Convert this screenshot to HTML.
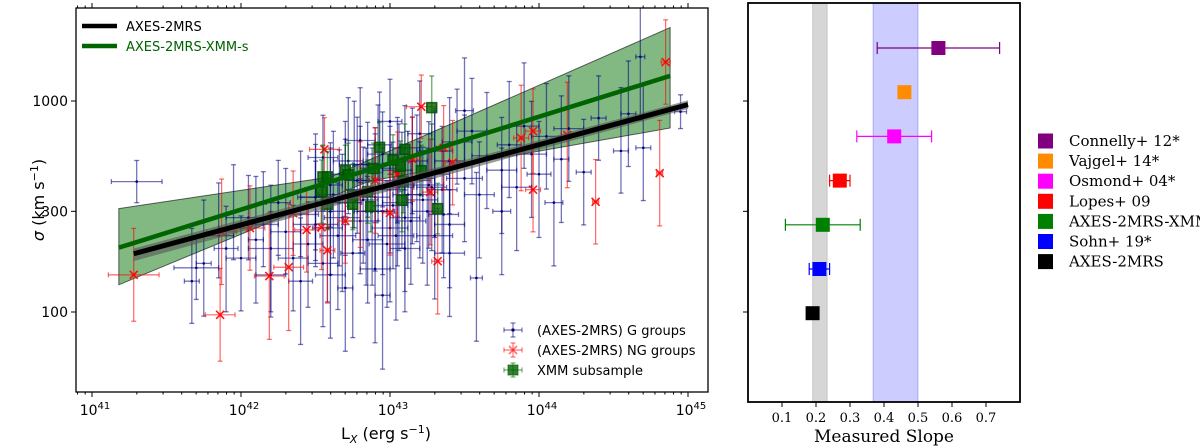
<!DOCTYPE html>
<html><head><meta charset="utf-8"><style>
body{margin:0;background:#fff;}
svg{display:block;font-family:"DejaVu Sans","Liberation Sans",sans-serif;}
.serif{font-family:"DejaVu Serif","Liberation Serif",serif;}
</style></head><body>
<svg id="chart" width="1200" height="448" viewBox="0 0 1200 448" xmlns="http://www.w3.org/2000/svg"></svg>
<script>
// ---- Left panel data ----
const blueL=[41.30,41.67,41.70,41.75,41.85,41.9,41.95,42.0,42.05,42.1,42.15,42.2,42.25,42.3,42.35,42.4,42.45,42.5,42.5,42.55,42.6,42.6,42.65,42.7,42.7,42.75,42.8,42.8,42.85,42.85,42.9,42.9,42.95,42.95,43.0,43.0,43.05,43.05,43.1,43.1,43.15,43.15,43.2,43.2,43.25,43.3,43.3,43.35,43.4,43.4,43.45,43.5,43.55,43.6,43.65,43.58,43.75,43.8,43.85,43.9,43.95,44.0,44.05,44.15,44.2,44.3,44.4,44.55,44.6,44.7,44.68,44.95,43.3,43.1,42.9,42.6,42.4,42.2,43.4,42.7,42.95,43.0,42.8,43.5,42.55,44.1,43.75,42.62,42.68,42.78,42.82,42.88,42.92,43.02,43.08,43.12,43.18,43.22,43.28,42.72,42.58,42.98,43.14,42.84,43.06,42.5,42.66,43.26,43.36,42.93,42.76,43.04];
const blueS=[415,140,162,170,230,200,250,180,280,220,260,200,330,240,180,290,210,350,260,170,400,300,230,330,450,190,380,270,500,220,350,420,300,560,380,250,470,330,600,280,420,520,360,700,300,450,580,380,520,260,640,430,720,360,550,145,470,620,390,760,560,450,680,530,740,460,830,580,870,600,1620,890,230,200,160,150,140,150,190,130,120,800,650,900,540,330,300,360,280,420,340,300,480,320,400,360,430,340,390,520,250,210,270,300,390,350,330,400,290,620,500,230,240,200];
const blueXe=[0.17,0.05,0.15,0.05,0.1,0.08,0.1,0.1,0.15,0.05,0.1,0.15,0.08,0.1,0.1,0.12,0.1,0.1,0.15,0.1,0.08,0.1,0.12,0.1,0.1,0.08,0.1,0.12,0.1,0.1,0.1,0.15,0.08,0.1,0.1,0.12,0.1,0.1,0.1,0.1,0.12,0.1,0.1,0.08,0.1,0.1,0.12,0.1,0.1,0.1,0.1,0.12,0.1,0.1,0.1,0.04,0.1,0.08,0.1,0.1,0.1,0.08,0.1,0.05,0.1,0.05,0.05,0.05,0.05,0.05,0.03,0.04,0.12,0.1,0.1,0.1,0.08,0.1,0.1,0.05,0.05,0.08,0.1,0.06,0.1,0.06,0.06,0.1,0.12,0.08,0.1,0.1,0.12,0.1,0.08,0.1,0.12,0.1,0.1,0.1,0.1,0.12,0.1,0.08,0.1,0.12,0.15,0.1,0.1,0.08,0.1,0.12,0.1];
const blueYlo=[0.1,0.2,0.15,0.25,0.2,0.3,0.15,0.25,0.2,0.3,0.2,0.3,0.25,0.2,0.25,0.2,0.3,0.25,0.2,0.3,0.2,0.3,0.35,0.25,0.2,0.4,0.3,0.25,0.25,0.3,0.35,0.2,0.3,0.25,0.3,0.35,0.25,0.3,0.2,0.35,0.3,0.25,0.3,0.2,0.35,0.3,0.25,0.3,0.25,0.3,0.2,0.3,0.25,0.3,0.25,0.3,0.3,0.25,0.3,0.2,0.3,0.3,0.25,0.3,0.25,0.25,0.2,0.2,0.25,0.25,0.3,0.08,0.3,0.3,0.35,0.3,0.3,0.2,0.3,0.3,0.35,0.25,0.2,0.25,0.2,0.3,0.3,0.3,0.35,0.25,0.3,0.35,0.25,0.3,0.3,0.35,0.3,0.3,0.3,0.25,0.35,0.3,0.3,0.35,0.3,0.3,0.3,0.3,0.3,0.2,0.3,0.4,0.35,0.35];
const blueYhi=[0.1,0.25,0.15,0.3,0.25,0.2,0.3,0.2,0.2,0.3,0.25,0.3,0.2,0.3,0.25,0.3,0.2,0.25,0.3,0.25,0.2,0.3,0.25,0.3,0.25,0.3,0.3,0.2,0.2,0.3,0.3,0.25,0.3,0.2,0.3,0.3,0.25,0.2,0.2,0.3,0.3,0.25,0.25,0.25,0.3,0.3,0.2,0.3,0.3,0.3,0.25,0.3,0.25,0.25,0.3,0.5,0.25,0.3,0.3,0.3,0.25,0.25,0.25,0.3,0.25,0.25,0.2,0.3,0.25,0.3,0.3,0.08,0.3,0.3,0.3,0.3,0.3,0.3,0.3,0.3,0.4,0.2,0.25,0.25,0.2,0.3,0.3,0.3,0.3,0.3,0.25,0.3,0.3,0.3,0.25,0.3,0.3,0.25,0.3,0.3,0.25,0.3,0.3,0.3,0.3,0.3,0.25,0.3,0.3,0.25,0.3,0.3,0.3,0.3];
const redL=[41.28,41.86,41.87,42.06,42.19,42.32,42.35,42.44,42.54,42.58,42.70,42.56,43.0,43.32,43.21,43.36,43.88,43.96,44.19,43.96,44.38,44.81,44.85,43.27,43.42,42.9,42.8,43.15,43.05];
const redS=[150,97,240,250,148,163,294,245,252,196,270,590,295,174,940,600,668,720,690,380,333,455,1530,370,510,420,360,530,450];
const redXe=[0.17,0.1,0.1,0.1,0.1,0.1,0.1,0.08,0.05,0.05,0.05,0.1,0.05,0.04,0.1,0.05,0.05,0.05,0.04,0.05,0.02,0.02,0.03,0.05,0.05,0.05,0.05,0.05,0.05];
const redYe=[0.22,0.22,0.25,0.2,0.3,0.3,0.2,0.2,0.2,0.25,0.2,0.15,0.2,0.25,0.15,0.2,0.25,0.2,0.25,0.2,0.2,0.25,0.2,0.25,0.2,0.25,0.25,0.2,0.2];
const greenL=[43.28,42.55,42.58,42.54,42.58,42.70,42.72,42.75,42.75,42.85,42.87,42.89,42.93,43.02,43.07,43.10,43.09,43.08,43.21,43.32];
const greenS=[930,437,437,372,324,468,447,355,324,372,316,479,603,525,490,590,417,339,468,309];
const greenYe=[0.15,0.15,0.12,0.15,0.12,0.12,0.15,0.15,0.12,0.15,0.12,0.12,0.12,0.12,0.12,0.12,0.15,0.15,0.12,0.12];
const fitNames=['AXES-2MRS','AXES-2MRS-XMM-s'];
const fitRange=[[41.28,45.0],[41.18,44.88]];
const fitAt=[2.276,2.305];
const fitRef=[41.28,41.18];
const fitSlope=[0.19,0.22];
const bandL=[41.18,42.60,44.88];
const bandHi=[2.49,2.64,3.348];
const bandMidL=[41.18,42.86,44.88];
const bandMidLo=[2.129,2.62,2.872];
// ---- Right panel data ----
const studies=['Connelly+ 12*','Vajgel+ 14*','Osmond+ 04*','Lopes+ 09','AXES-2MRS-XMM','Sohn+ 19*','AXES-2MRS'];
const slopes=[0.56,0.46,0.43,0.27,0.22,0.21,0.19];
const slopeLo=[0.38,0.445,0.32,0.24,0.11,0.18,0.18];
const slopeHi=[0.74,0.475,0.54,0.30,0.33,0.24,0.20];
const studyColors=['#800080','#ff8c00','#ff00ff','#ff0000','#008000','#0000ff','#000000'];
const greyBand=[0.19,0.233];
const blueBand=[0.368,0.50];
const slopeTicks=[0.1,0.2,0.3,0.4,0.5,0.6,0.7];

const NS='http://www.w3.org/2000/svg';
const svg=document.getElementById('chart');
function mk(tag,attrs,parent){const e=document.createElementNS(NS,tag);for(const k in attrs)e.setAttribute(k,attrs[k]);(parent||svg).appendChild(e);return e;}
const LX0=76,LX1=708,LY0=8,LY1=392;
const xL=l=>92+(l-41)*149;
const yS=ls=>101+(3-ls)*211;
const ys=s=>yS(Math.log10(s));
const defs=mk('defs',{});
const cp=mk('clipPath',{id:'lc'},defs);mk('rect',{x:LX0,y:LY0,width:LX1-LX0,height:LY1-LY0},cp);
const gL=mk('g',{'clip-path':'url(#lc)'});


let pts=[];
for(let i=0;i<bandL.length;i++)pts.push(xL(bandL[i])+','+yS(bandHi[i]));
for(let i=bandMidL.length-1;i>=0;i--)pts.push(xL(bandMidL[i])+','+yS(bandMidLo[i]));
const band=mk('polygon',{points:pts.join(' '),fill:'#2e8b2e','fill-opacity':0.6,stroke:'#000','stroke-opacity':0.6,'stroke-width':1},gL);


for(let i=0;i<blueL.length;i++){
 const g=mk('g',{stroke:'#000080','stroke-opacity':0.55,'stroke-width':1.3},gL);
 
 
 const x=xL(blueL[i]),ls=Math.log10(blueS[i]),y=yS(ls);
 const ya=yS(ls+blueYhi[i]),yb=yS(ls-blueYlo[i]),xa=xL(blueL[i]-blueXe[i]),xb=xL(blueL[i]+blueXe[i]);
 mk('line',{x1:x,y1:ya,x2:x,y2:yb},g);mk('line',{x1:xa,y1:y,x2:xb,y2:y},g);
 mk('line',{x1:x-2.5,y1:ya,x2:x+2.5,y2:ya},g);mk('line',{x1:x-2.5,y1:yb,x2:x+2.5,y2:yb},g);
 mk('line',{x1:xa,y1:y-2.5,x2:xa,y2:y+2.5},g);mk('line',{x1:xb,y1:y-2.5,x2:xb,y2:y+2.5},g);
 mk('circle',{cx:x,cy:y,r:1.3,fill:'#000080',stroke:'none'},g);
}
for(let i=0;i<redL.length;i++){
 const g=mk('g',{stroke:'#ff0000','stroke-opacity':0.6,'stroke-width':1.2},gL);
 
 
 const x=xL(redL[i]),ls=Math.log10(redS[i]),y=yS(ls);
 const ya=yS(ls+redYe[i]),yb=yS(ls-redYe[i]),xa=xL(redL[i]-redXe[i]),xb=xL(redL[i]+redXe[i]);
 mk('line',{x1:x,y1:ya,x2:x,y2:yb},g);mk('line',{x1:xa,y1:y,x2:xb,y2:y},g);
 mk('line',{x1:x-2.5,y1:ya,x2:x+2.5,y2:ya},g);mk('line',{x1:x-2.5,y1:yb,x2:x+2.5,y2:yb},g);
 mk('line',{x1:xa,y1:y-2.5,x2:xa,y2:y+2.5},g);mk('line',{x1:xb,y1:y-2.5,x2:xb,y2:y+2.5},g);
 mk('path',{d:`M${x-4},${y-4}L${x+4},${y+4}M${x-4},${y+4}L${x+4},${y-4}`,'stroke-opacity':0.9,'stroke-width':1.6},g);
}
for(let i=0;i<greenL.length;i++){
 const g=mk('g',{stroke:'#006400','stroke-opacity':0.5,'stroke-width':1.5},gL);
 
 
 const x=xL(greenL[i]),ls=Math.log10(greenS[i]),y=yS(ls);
 const ya=yS(ls+greenYe[i]),yb=yS(ls-greenYe[i]);
 mk('line',{x1:x,y1:ya,x2:x,y2:yb},g);
 mk('line',{x1:x-2.5,y1:ya,x2:x+2.5,y2:ya},g);mk('line',{x1:x-2.5,y1:yb,x2:x+2.5,y2:yb},g);
 mk('rect',{x:x-5,y:y-5,width:10,height:10,fill:'#006400','fill-opacity':0.8,stroke:'#004d00','stroke-opacity':0.8},g);
}
const fitColors=['#000000','#006400'];
const fitW=[5,4.5];
for(let k=0;k<2;k++){
 const l0=fitRange[k][0],l1=fitRange[k][1];
 const v0=fitAt[k]+fitSlope[k]*(l0-fitRef[k]),v1=fitAt[k]+fitSlope[k]*(l1-fitRef[k]);
 if(k===0){
  const b=mk('polygon',{points:`${xL(l0)},${yS(v0+0.025)} ${xL(l1)},${yS(v1+0.02)} ${xL(l1)},${yS(v1-0.02)} ${xL(l0)},${yS(v0-0.035)}`,fill:'#555','fill-opacity':0.6},gL);
  
  
 }
 const ln=mk('line',{x1:xL(l0),y1:yS(v0),x2:xL(l1),y2:yS(v1),stroke:fitColors[k],'stroke-width':fitW[k]},gL);
 
 
}
const lf=mk('rect',{x:LX0,y:LY0,width:LX1-LX0,height:LY1-LY0,fill:'none',stroke:'#000','stroke-width':1.3});


const xAxis=mk('g',{stroke:'#000','stroke-width':1});


for(let d=40;d<=45;d++)for(let m=1;m<10;m++){
 const l=d+Math.log10(m);const x=xL(l);if(x<LX0||x>LX1)continue;
 const len=m===1?5:2.5;
 mk('line',{x1:x,y1:LY1,x2:x,y2:LY1+len},xAxis);mk('line',{x1:x,y1:LY0,x2:x,y2:LY0-len},xAxis);
 if(m===1){const t=mk('text',{x:x+3,y:LY1+23,'text-anchor':'middle','font-size':14,stroke:'none',fill:'#000'},xAxis);
  t.innerHTML=`10<tspan dy="-6" font-size="10">${d}</tspan>`;
  
  }
}
const yTicks=[100,300,1000];
const yAxis=mk('g',{stroke:'#000'});


yTicks.forEach(v=>{const y=ys(v);mk('line',{x1:LX0-5,y1:y,x2:LX0,y2:y},yAxis);
 const t=mk('text',{x:LX0-8,y:y+5,'text-anchor':'end','font-size':14,stroke:'none',fill:'#000'},yAxis);t.textContent=v;
 
 });
const xt=mk('text',{x:386,y:439,'text-anchor':'middle','font-size':16,fill:'#000'});
xt.innerHTML='L<tspan dy="4" font-size="11" font-style="italic">X</tspan><tspan dy="-4"> (erg s</tspan><tspan dy="-6" font-size="11">−1</tspan><tspan dy="6">)</tspan>';


const yt=mk('text',{x:0,y:0,'text-anchor':'middle','font-size':16,fill:'#000',transform:'translate(44,200) rotate(-90)'});
yt.innerHTML='<tspan font-style="italic">σ</tspan> (km s<tspan dy="-6" font-size="11">−1</tspan><tspan dy="6">)</tspan>';


const lg1=mk('g',{});


fitNames.forEach((n,i)=>{const y=26+i*20;
 mk('line',{x1:82,y1:y,x2:117,y2:y,stroke:fitColors[i],'stroke-width':4.5},lg1);
 const t=mk('text',{x:126,y:y+5,'font-size':13,fill:i?'#006400':'#000'},lg1);t.textContent=n;
 
 });
const lg2=mk('g',{});


const lgTexts=['(AXES-2MRS) G groups','(AXES-2MRS) NG groups','XMM subsample'];
lgTexts.forEach((n,i)=>{const y=330+i*20,x=513;
 const col=['#000080','#ff0000','#006400'][i];
 const g=mk('g',{stroke:col,'stroke-opacity':0.55,'stroke-width':1.2},lg2);
 
 
 mk('line',{x1:x-9,y1:y,x2:x+9,y2:y},g);mk('line',{x1:x,y1:y-7,x2:x,y2:y+7},g);
 mk('line',{x1:x-9,y1:y-2.5,x2:x-9,y2:y+2.5},g);mk('line',{x1:x+9,y1:y-2.5,x2:x+9,y2:y+2.5},g);
 mk('line',{x1:x-2.5,y1:y-7,x2:x+2.5,y2:y-7},g);mk('line',{x1:x-2.5,y1:y+7,x2:x+2.5,y2:y+7},g);
 if(i===1)mk('path',{d:`M${x-4},${y-4}L${x+4},${y+4}M${x-4},${y+4}L${x+4},${y-4}`,'stroke-width':1.6},g);
 if(i===2)mk('rect',{x:x-5,y:y-5,width:10,height:10,fill:'#006400','fill-opacity':0.8},g);
 if(i===0)mk('circle',{cx:x,cy:y,r:1.3,fill:col},g);
 const t=mk('text',{x:537,y:y+5,'font-size':13,fill:'#000'},lg2);t.textContent=n;
 
 });

const RX0=748,RX1=1020,RY0=3,RY1=402;
const xs=v=>RX0+v*340;
const rowY=i=>48+i*44.2;
const gR=mk('g',{});


const gb=mk('rect',{x:xs(greyBand[0]),y:RY0,width:xs(greyBand[1])-xs(greyBand[0]),height:RY1-RY0,fill:'#808080','fill-opacity':0.32,stroke:'#808080','stroke-opacity':0.3},gR);


const bb=mk('rect',{x:xs(blueBand[0]),y:RY0,width:xs(blueBand[1])-xs(blueBand[0]),height:RY1-RY0,fill:'#0000ff','fill-opacity':0.2,stroke:'#0000ff','stroke-opacity':0.25},gR);


studies.forEach((s,i)=>{const y=rowY(i),c=studyColors[i];
 const g=mk('g',{stroke:c,'stroke-width':1.2},gR);
 
 
 const a=xs(slopeLo[i]),b=xs(slopeHi[i]);
 mk('line',{x1:a,y1:y,x2:b,y2:y},g);mk('line',{x1:a,y1:y-6,x2:a,y2:y+6},g);mk('line',{x1:b,y1:y-6,x2:b,y2:y+6},g);
 mk('rect',{x:xs(slopes[i])-7,y:y-7,width:14,height:14,fill:c,stroke:'none'},g);
});
mk('rect',{x:RX0,y:RY0,width:RX1-RX0,height:RY1-RY0,fill:'none',stroke:'#000','stroke-width':1.8},gR);
yTicks.forEach(v=>mk('line',{x1:RX0-5,y1:ys(v),x2:RX0,y2:ys(v),stroke:'#000'},gR));
slopeTicks.forEach(v=>{const x=xs(v);mk('line',{x1:x,y1:RY1,x2:x,y2:RY1+5,stroke:'#000'},gR);
 const t=mk('text',{x:x,y:RY1+20,'text-anchor':'middle','font-size':13,class:'serif',fill:'#000'},gR);t.textContent=v.toFixed(1);
 
 });
const st=mk('text',{x:884,y:442,'text-anchor':'middle','font-size':17,class:'serif',fill:'#000'},gR);st.textContent='Measured Slope';


studies.forEach((s,i)=>{const y=141+i*20.1;
 const g=mk('g',{});
 
 
 mk('rect',{x:1038,y:y-7.5,width:15,height:15,fill:studyColors[i]},g);
 const t=mk('text',{x:1069,y:y+5,'font-size':15,class:'serif',fill:'#000'},g);t.textContent=s;});
</script>
</body></html>
